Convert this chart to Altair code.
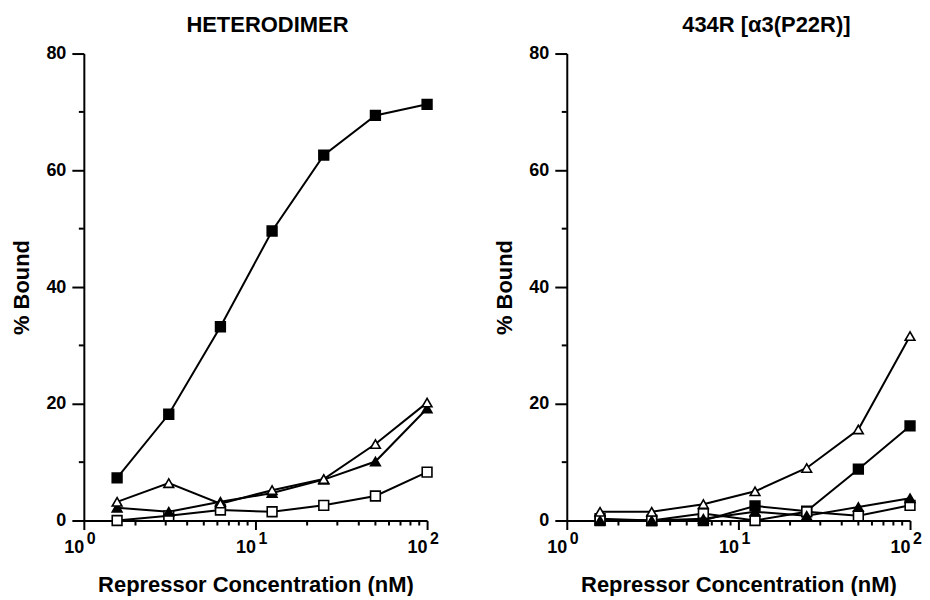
import altair as alt
import pandas as pd

# ---- data ----
conc = [1.5625, 3.125, 6.25, 12.5, 25, 50, 100]
series_names = ["filled square", "open square", "filled triangle", "open triangle"]

het_filled_sq = [7.3, 18.2, 33.2, 49.6, 62.6, 69.4, 71.3]
het_open_sq = [0.0, 0.8, 1.8, 1.5, 2.6, 4.2, 8.3]
het_filled_tri = [2.2, 1.5, 3.2, 4.7, 7.0, 10.1, 19.2]
het_open_tri = [3.2, 6.4, 2.9, 5.2, 7.1, 13.1, 20.2]

p22r_filled_sq = [0.0, 0.0, 0.0, 2.5, 1.6, 8.8, 16.2]
p22r_open_sq = [0.3, 0.0, 1.2, 0.0, 1.5, 0.8, 2.6]
p22r_filled_tri = [0.0, 0.0, 0.3, 1.5, 0.8, 2.3, 3.8]
p22r_open_tri = [1.5, 1.5, 2.8, 5.0, 9.0, 15.6, 31.6]

panel_titles = ["HETERODIMER", "434R [α3(P22R)]"]
x_major = [1, 10, 100]
x_tick_base = "10"
x_tick_exp = ["0", "1", "2"]
x_minor = [2, 3, 4, 5, 6, 7, 8, 9, 20, 30, 40, 50, 60, 70, 80, 90]
y_major = [0, 20, 40, 60, 80]
y_minor = [10, 30, 50, 70]

# ---- build tables ----
panel_data = {
    panel_titles[0]: [het_filled_sq, het_open_sq, het_filled_tri, het_open_tri],
    panel_titles[1]: [p22r_filled_sq, p22r_open_sq, p22r_filled_tri, p22r_open_tri],
}
rows = []
for p, series_list in panel_data.items():
    for name, vals in zip(series_names, series_list):
        for c, v in zip(conc, vals):
            rows.append({"panel": p, "series": name, "conc": c, "bound": v})
df = pd.DataFrame(rows)
exp_df = pd.DataFrame({"conc": x_major, "exp": x_tick_exp})

FONT = "Liberation Sans"
W, H = 344, 468

xscale = alt.Scale(type="log", domain=[1, 100])
yscale = alt.Scale(domain=[0, 80])


def panel(title, dx):
    d = df[df.panel == title]
    x = alt.X(
        "conc:Q",
        scale=xscale,
        axis=alt.Axis(
            values=x_major,
            labelExpr=f"'{x_tick_base}'",
            labelFlush=False,
            labelAlign="right",
            tickSize=9,
            labelPadding=9,
            title="Repressor Concentration (nM)",
            titlePadding=18,
        ),
    )
    y = alt.Y(
        "bound:Q",
        scale=yscale,
        axis=alt.Axis(
            values=y_major,
            tickSize=12,
            labelPadding=6,
            title="% Bound",
            titlePadding=12,
        ),
    )
    base = alt.Chart(d)
    lines = base.mark_line(color="black", strokeWidth=2).encode(
        x=x, y=y, detail="series:N", order="conc:Q"
    )
    pts = base.mark_point(filled=True, opacity=1, strokeWidth=1.6).encode(
        x=x,
        y=y,
        shape=alt.Shape(
            "series:N",
            scale=alt.Scale(
                domain=series_names,
                range=["square", "square", "triangle-up", "triangle-up"],
            ),
            legend=None,
        ),
        size=alt.Size(
            "series:N",
            scale=alt.Scale(domain=series_names, range=[95, 95, 140, 140]),
            legend=None,
        ),
        fill=alt.Fill(
            "series:N",
            scale=alt.Scale(domain=series_names, range=["black", "white", "black", "white"]),
            legend=None,
        ),
        stroke=alt.value("black"),
    )
    xm = (
        alt.Chart(pd.DataFrame({"conc": x_minor}))
        .mark_rule(color="black", strokeWidth=2)
        .encode(x=alt.X("conc:Q", scale=xscale), y=alt.value(H), y2=alt.value(H + 5))
    )
    ym = (
        alt.Chart(pd.DataFrame({"bound": y_minor}))
        .mark_rule(color="black", strokeWidth=2)
        .encode(y=alt.Y("bound:Q", scale=yscale), x=alt.value(-5), x2=alt.value(0))
    )
    exps = (
        alt.Chart(exp_df)
        .mark_text(
            font=FONT, fontSize=16, fontWeight="bold", color="black",
            align="left", baseline="top", dx=3,
        )
        .encode(x=alt.X("conc:Q", scale=xscale), y=alt.value(H + 11), text="exp:N")
    )
    return alt.layer(xm, ym, lines, pts, exps).properties(
        width=W,
        height=H,
        title=alt.Title(
            title,
            font=FONT,
            fontSize=22,
            fontWeight="bold",
            color="black",
            anchor="middle",
            offset=8,
            dx=dx,
        ),
    )


chart = (
    alt.hconcat(panel(panel_titles[0], 12), panel(panel_titles[1], 28), spacing=54)
    .properties(padding={"left": 2, "top": 5, "right": 0, "bottom": 0})
    .configure_view(stroke=None)
    .configure_axis(
        domainColor="black",
        domainWidth=2,
        tickColor="black",
        tickWidth=2,
        grid=False,
        labelFont=FONT,
        labelFontSize=18,
        labelFontWeight="bold",
        labelColor="black",
        titleFont=FONT,
        titleFontSize=22,
        titleFontWeight="bold",
        titleColor="black",
    )
)

chart.save("out.html", embed_options={"renderer": "svg", "actions": False})
